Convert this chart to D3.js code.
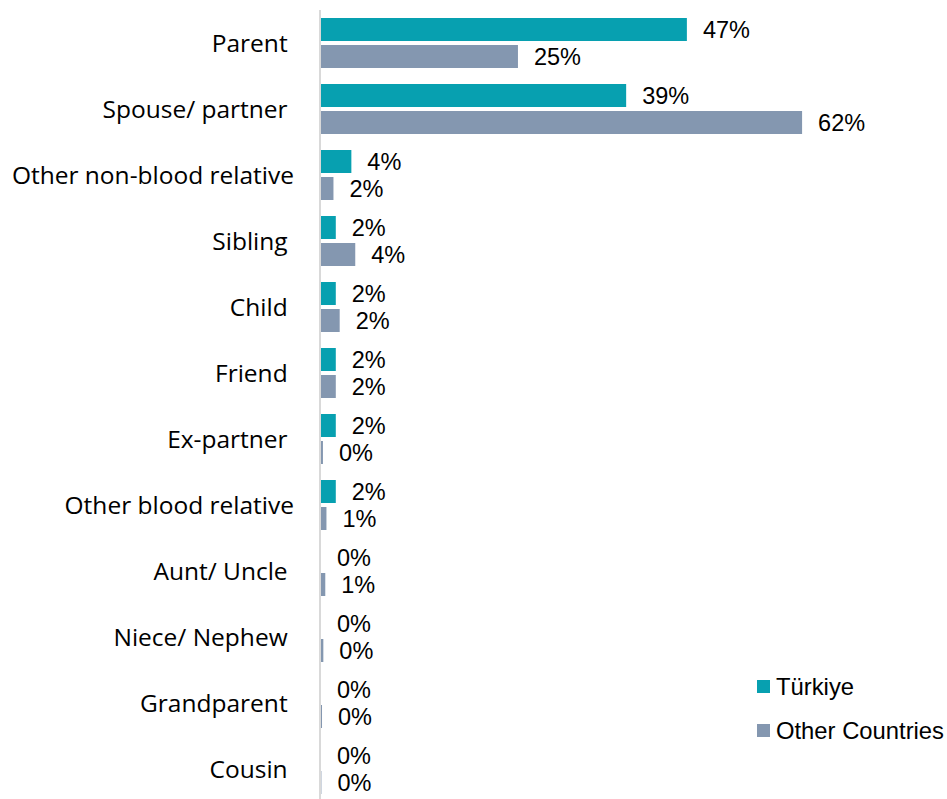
<!DOCTYPE html>
<html>
<head>
<meta charset="utf-8">
<title>Relationship</title>
<style>
  body { margin: 0; background: #fff; }
  .cat { font-family: "Open Sans", sans-serif; font-size: 24.5px; fill: #000; white-space: pre; }
  .val { font-family: "Liberation Sans", Arial, sans-serif; font-size: 23.5px; fill: #000; }
  .legend text { font-family: "Liberation Sans", Arial, sans-serif; font-size: 23.8px; fill: #000; }
</style>
</head>
<body>
<svg width="947" height="799"></svg>
<script src="https://cdn.jsdelivr.net/npm/d3@7"></script>
<script>
// categories (trailing spaces as in the source labels)
var categories = ["Parent ", "Spouse/ partner ", "Other non-blood relative", "Sibling ", "Child ",
                  "Friend ", "Ex-partner ", "Other blood relative", "Aunt/ Uncle ", "Niece/ Nephew ",
                  "Grandparent ", "Cousin "];
var seriesNames = ["Türkiye", "Other Countries"];
var turkiye = [47, 39.2, 3.9, 1.9, 1.9, 1.9, 1.9, 1.9, 0, 0, 0, 0];
var otherCountries = [25.3, 61.8, 1.6, 4.4, 2.4, 1.9, 0.25, 0.7, 0.55, 0.3, 0.13, 0.05];
var colors = ["#07a0b0", "#8497b0"];

var svg = d3.select("svg");

var data = categories.map(function(c, i) {
  return {cat: c, values: [turkiye[i], otherCountries[i]]};
});

// scales
var y0 = d3.scaleBand()
    .domain(categories)
    .range([10, 802])
    .paddingInner(16 / 66)
    .paddingOuter(8 / 66);

var y1 = d3.scaleBand()
    .domain(seriesNames)
    .range([0, y0.bandwidth()])
    .paddingInner(0.148);

var x = d3.scaleLinear().domain([0, 65]).range([321, 827]);

var fmt = function(v) { return Math.round(v) + "%"; };

// category labels
svg.append("g").selectAll("text")
  .data(categories)
  .enter().append("text")
    .attr("class", "cat")
    .attr("x", 294)
    .attr("y", function(d) { return y0(d) + y0.bandwidth() / 2; })
    .attr("dy", "0.35em")
    .attr("text-anchor", "end")
    .text(function(d) { return d; });

// bars
var group = svg.append("g").selectAll("g")
  .data(data)
  .enter().append("g")
    .attr("transform", function(d) { return "translate(0," + y0(d.cat) + ")"; });

group.selectAll("rect")
  .data(function(d) { return d.values.map(function(v, i) { return {key: seriesNames[i], v: v, i: i}; }); })
  .enter().append("rect")
    .attr("x", x(0))
    .attr("y", function(d) { return y1(d.key); })
    .attr("width", function(d) { return x(d.v) - x(0); })
    .attr("height", y1.bandwidth())
    .attr("fill", function(d) { return colors[d.i]; });

group.selectAll("text")
  .data(function(d) { return d.values.map(function(v, i) { return {key: seriesNames[i], v: v, i: i}; }); })
  .enter().append("text")
    .attr("class", "val")
    .attr("x", function(d) { return x(d.v) + 16; })
    .attr("y", function(d) { return y1(d.key) + y1.bandwidth() / 2; })
    .attr("dy", "0.36em")
    .text(function(d) { return fmt(d.v); });

// vertical axis line
svg.append("line")
    .attr("x1", 320).attr("x2", 320)
    .attr("y1", 10).attr("y2", 802)
    .attr("stroke", "#d9d9d9")
    .attr("stroke-width", 2);

// legend
var legend = svg.append("g")
    .attr("class", "legend")
  .selectAll("g")
  .data(seriesNames)
  .enter().append("g")
    .attr("transform", function(d, i) { return "translate(757," + (680 + i * 44) + ")"; });

legend.append("rect")
    .attr("width", 13)
    .attr("height", 13)
    .attr("fill", function(d, i) { return colors[i]; });

legend.append("text")
    .attr("x", 19)
    .attr("y", 6.5)
    .attr("dy", "0.36em")
    .text(function(d) { return d; });
</script>
</body>
</html>
